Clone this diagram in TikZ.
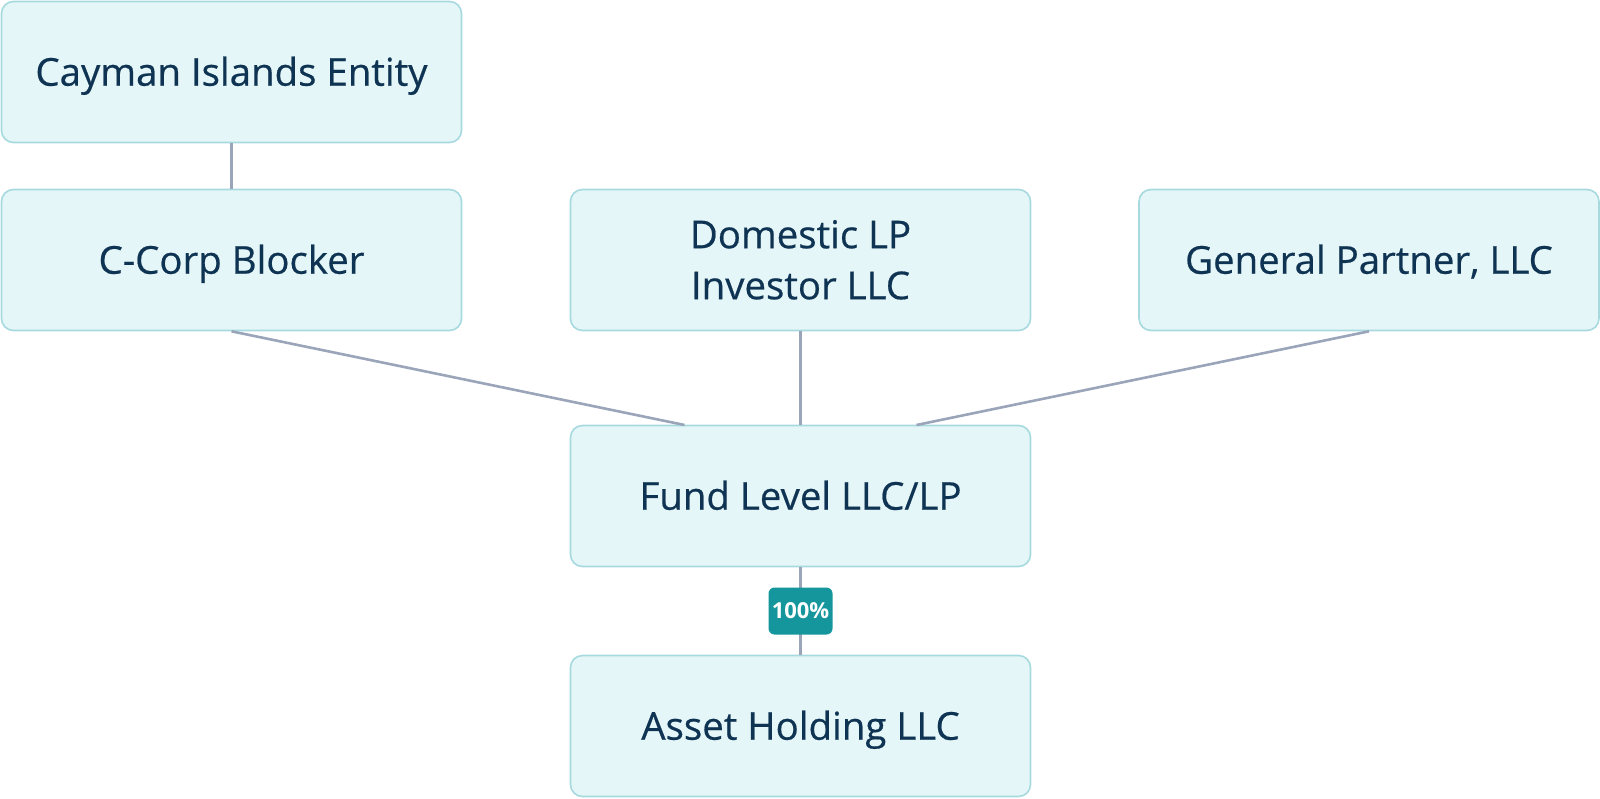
\documentclass[tikz,border=0pt]{standalone}
\usepackage{fontspec}
\setmainfont{Open Sans}
\newfontface\medfont{Open Sans}[FakeBold=0.5]
\definecolor{boxfill}{HTML}{E4F6F7}
\definecolor{boxline}{HTML}{A6DADF}
\definecolor{txt}{HTML}{0F3352}
\definecolor{conn}{HTML}{9AA5BA}
\definecolor{badge}{HTML}{14969C}
\begin{document}
\begin{tikzpicture}[x=0.5pt,y=-0.5pt,
  entity/.style={draw=boxline,line width=0.8pt,fill=boxfill,rounded corners=6pt,
    minimum width=230pt,minimum height=70.5pt,text=txt,font=\medfont\fontsize{19.2}{25.5}\selectfont,
    align=center,inner sep=0pt,text height=13.7pt,text depth=0pt},
  twoline/.style={text height=39.2pt,text depth=0pt},
  link/.style={draw=conn,line width=1.3pt},
  pct/.style={fill=badge,text=white,rounded corners=3pt,font=\fontsize{11}{13}\selectfont\bfseries,
    minimum width=32pt,minimum height=23.5pt,inner sep=0pt}]
\useasboundingbox (0,0) rectangle (1600,798);
\node[entity] (cay) at (231.5,72) {Cayman Islands Entity};
\node[entity] (ccorp) at (231.5,260) {C-Corp Blocker};
\node[entity,twoline] (dom) at (800.5,260) {Domestic LP\\Investor LLC};
\node[entity] (gp) at (1369,260) {General Partner, LLC};
\node[entity] (fund) at (800.5,496) {Fund Level LLC/LP};
\node[entity] (asset) at (800.5,726) {Asset Holding LLC};
\coordinate (fl) at (684.5,425);
\coordinate (fr) at (916.5,425);
\draw[link] (cay.south) -- (ccorp.north);
\draw[link] (ccorp.south) -- (fl);
\draw[link] (gp.south) -- (fr);
\draw[link] (dom.south) -- (fund.north);
\draw[link] (fund.south) -- (asset.north);
\node[pct] (p) at (800.5,611) {100\%};
\end{tikzpicture}
\end{document}
